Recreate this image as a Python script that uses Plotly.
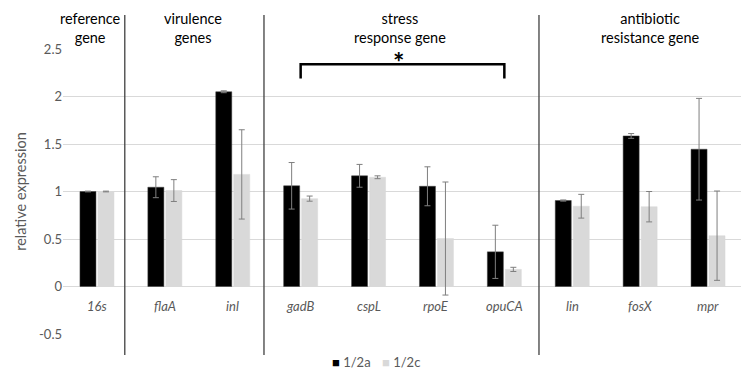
import plotly.graph_objects as go

genes = ["16s", "flaA", "inl", "gadB", "cspL", "rpoE", "opuCA", "lin", "fosX", "mpr"]
val_2a = [1.0, 1.045, 2.05, 1.06, 1.165, 1.055, 0.365, 0.905, 1.585, 1.445]
err_2a = [0.004, 0.11, 0.01, 0.245, 0.12, 0.205, 0.28, 0.006, 0.025, 0.535]
val_2c = [1.0, 1.01, 1.18, 0.925, 1.15, 0.505, 0.18, 0.845, 0.84, 0.535]
err_2c = [0.004, 0.115, 0.47, 0.027, 0.015, 0.595, 0.022, 0.125, 0.16, 0.47]
group_labels = ["reference<br>gene", "virulence<br>genes", "stress<br>response gene", "antibiotic<br>resistance gene"]
group_centers = [-0.1, 1.42, 4.46, 8.15]
separators = [0.41, 2.46, 6.51]
y_ticks = [-0.5, 0, 0.5, 1, 1.5, 2, 2.5]
series_names = ["1/2a", "1/2c"]
series_colors = ["#000000", "#d9d9d9"]
legend_x = [0.393, 0.467]

font_family = "Lato, 'Open Sans', sans-serif"
grey_txt = "#595959"

fig = go.Figure()
for name, vals, errs, col in zip(series_names, [val_2a, val_2c], [err_2a, err_2c], series_colors):
    fig.add_trace(go.Bar(
        x=genes, y=vals, name=name, showlegend=False,
        marker=dict(color=col, line=dict(color="#404040" if col == "#000000" else col, width=0.5)),
        error_y=dict(type="data", array=errs, color="#7f7f7f", thickness=1, width=3),
    ))

shapes = []
for s in separators:
    shapes.append(dict(type="line", xref="x", yref="paper", x0=s, x1=s, y0=-0.074, y1=1.119,
                       line=dict(color="#404040", width=1.3)))
# significance bracket between gadB and opuCA
b0, b1 = genes.index("gadB"), genes.index("opuCA")
shapes.append(dict(type="path", xref="x", yref="y",
                   path=f"M {b0} 2.19 L {b0} 2.34 L {b1} 2.34 L {b1} 2.19",
                   line=dict(color="#000000", width=2.5)))

annotations = []
for g in genes:
    annotations.append(dict(x=g, y=0, xref="x", yref="y", text=f"<i>{g}</i>", showarrow=False,
                            yanchor="top", yshift=-9, font=dict(size=13, color=grey_txt)))
for lab, c in zip(group_labels, group_centers):
    annotations.append(dict(x=c, y=1.145, xref="x", yref="paper", text=lab, showarrow=False,
                            yanchor="top", font=dict(size=14.5, color="#000000")))
annotations.append(dict(x=(b0 + b1) / 2 - 0.06, y=2.34, xref="x", yref="y", text="<b>*</b>", showarrow=False,
                        yanchor="bottom", yshift=-16, font=dict(size=27, color="#000000")))
# legend drawn as text swatches
for name, col, lx in zip(series_names, series_colors, legend_x):
    annotations.append(dict(x=lx, y=-0.098, xref="paper", yref="paper", xanchor="left", yanchor="middle",
                            text=f"<span style='color:{col}'>■</span> {name}", showarrow=False,
                            font=dict(size=13, color=grey_txt)))

fig.update_layout(
    width=741, height=367,
    margin=dict(l=55, r=7, t=41, b=41, autoexpand=False),
    paper_bgcolor="white", plot_bgcolor="white",
    font=dict(family=font_family, color=grey_txt, size=13),
    barmode="group", bargap=0.47, bargroupgap=0.11,
    showlegend=False,
    xaxis=dict(showticklabels=False, showgrid=False, zeroline=False, showline=False,
               range=[-0.5, len(genes) - 0.5], automargin=False),
    yaxis=dict(range=[-0.5, 2.5], tickvals=y_ticks, ticktext=[str(t) for t in y_ticks],
               showgrid=True, gridcolor="#d9d9d9", gridwidth=1, zeroline=False, showline=False,
               tickfont=dict(size=13, color=grey_txt), ticks="", ticklen=0, automargin=False,
               title=dict(text="relative expression", font=dict(size=14.5, color=grey_txt), standoff=8)),
    shapes=shapes, annotations=annotations,
)

fig.write_html("out.html")
